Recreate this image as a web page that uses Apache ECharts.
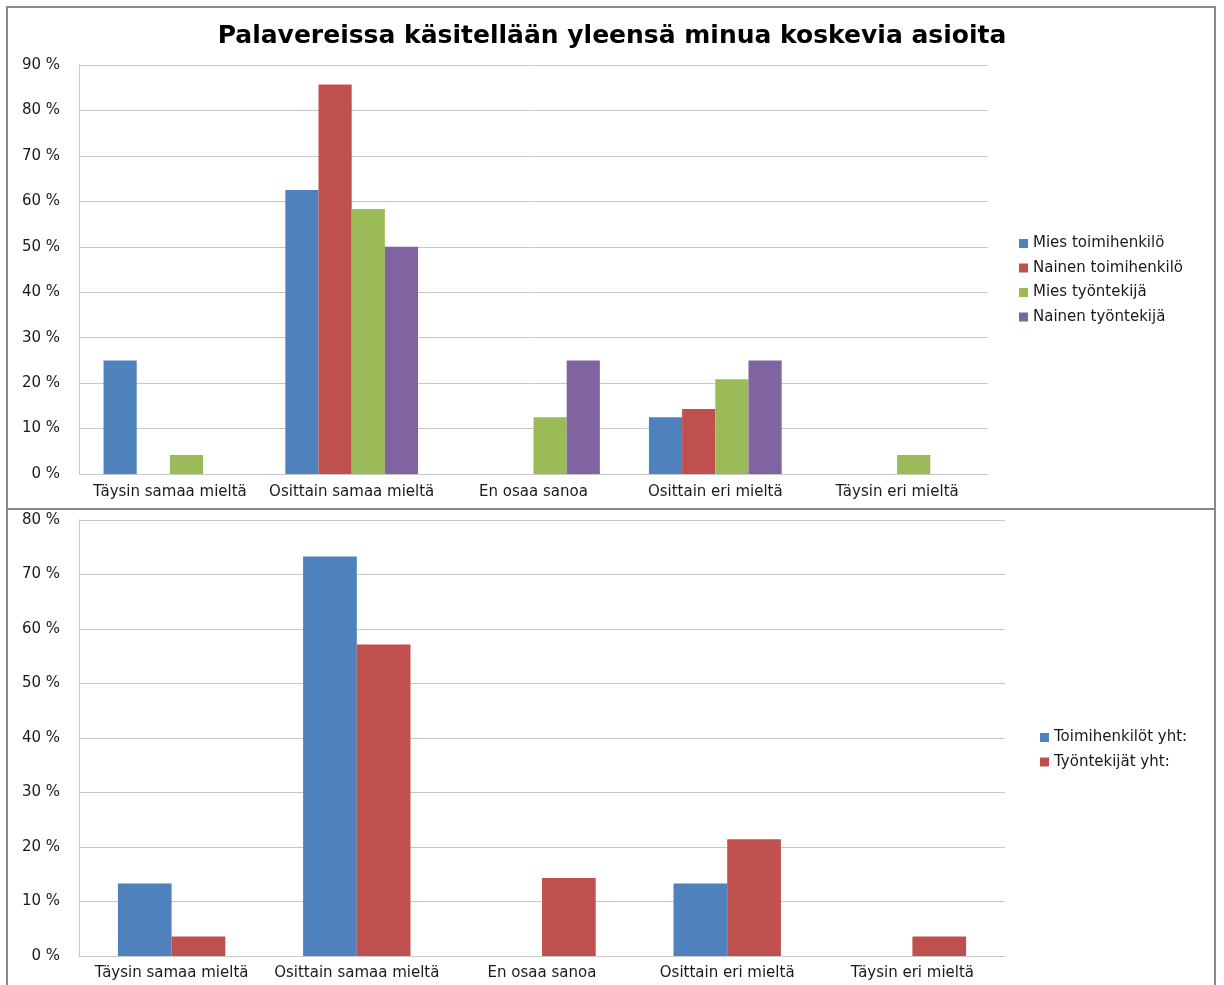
<!DOCTYPE html>
<html>
<head>
<meta charset="utf-8">
<script src="https://cdn.jsdelivr.net/npm/echarts@6/dist/echarts.min.js"></script>
<style>
  html, body { margin: 0; padding: 0; background: #fff; }
  #chart { width: 1224px; height: 985px; }
</style>
</head>
<body>
<div id="chart"></div>
<script>
// Answer categories shared by both charts
const categories = ['Täysin samaa mieltä', 'Osittain samaa mieltä', 'En osaa sanoa', 'Osittain eri mieltä', 'Täysin eri mieltä'];

// Upper chart: by gender and staff group (%)
const miesToimihenkilo   = [25.0, 62.5, 0, 12.5, 0];
const nainenToimihenkilo = [0, 85.7, 0, 14.3, 0];
const miesTyontekija     = [4.17, 58.33, 12.5, 20.83, 4.17];
const nainenTyontekija   = [0, 50.0, 25.0, 25.0, 0];

// Lower chart: totals by staff group (%)
const toimihenkilotYht = [13.3, 73.3, 0, 13.3, 0];
const tyontekijatYht   = [3.57, 57.14, 14.29, 21.43, 3.57];

// Axis tick ranges
const topAxis = { min: 0, max: 90, interval: 10 };
const bottomAxis = { min: 0, max: 80, interval: 10 };

const FONT = '"DejaVu Sans", "Open Sans", sans-serif';
const COLORS = ['#4F81BD', '#C0504D', '#9BBB59', '#8064A2'];

const chart = echarts.init(document.getElementById('chart'));

const labelStyle = { color: '#1a1a1a', fontSize: 15, fontFamily: FONT };
const lineStyle = { color: '#c8c8c8', width: 1 };

function valueAxis(gridIndex, range) {
  return {
    type: 'value', gridIndex, min: range.min, max: range.max, interval: range.interval,
    axisLine: { show: true, lineStyle },
    axisTick: { show: false },
    splitLine: { show: true, lineStyle },
    axisLabel: Object.assign({ formatter: '{value} %', margin: 19 }, labelStyle)
  };
}
function categoryAxis(gridIndex, margin) {
  return {
    type: 'category', gridIndex, data: categories,
    axisLine: { show: true, lineStyle },
    axisTick: { show: false },
    axisLabel: Object.assign({ margin, interval: 0 }, labelStyle)
  };
}
function barSeries(name, data, idx, gridIdx, gap) {
  return {
    name, type: 'bar', data, xAxisIndex: gridIdx, yAxisIndex: gridIdx,
    barGap: '0%', barCategoryGap: gap,
    itemStyle: { color: COLORS[idx] },
    emphasis: { disabled: true }
  };
}

const legendText = { fontSize: 15, lineHeight: 15, color: '#1a1a1a', fontFamily: FONT };

chart.setOption({
  animation: false,
  color: COLORS,
  textStyle: { fontFamily: FONT },
  title: {
    text: 'Palavereissa käsitellään yleensä minua koskevia asioita',
    left: 'center', top: 19,
    textStyle: { fontSize: 25, fontWeight: 'bold', color: '#000', fontFamily: FONT }
  },
  graphic: [
    { type: 'rect', shape: { x: 7, y: 7, width: 1208, height: 990 },
      style: { fill: 'none', stroke: '#8a8a8a', lineWidth: 2 }, silent: true },
    { type: 'line', shape: { x1: 7, y1: 509, x2: 1215, y2: 509 },
      style: { stroke: '#8a8a8a', lineWidth: 2 }, silent: true }
  ],
  legend: [
    {
      data: ['Mies toimihenkilö', 'Nainen toimihenkilö', 'Mies työntekijä', 'Nainen työntekijä'],
      orient: 'vertical', left: 1014, top: 231, icon: 'rect',
      itemWidth: 9, itemHeight: 9, itemGap: 9.5,
      textStyle: legendText
    },
    {
      data: ['Toimihenkilöt yht:', 'Työntekijät yht:'],
      orient: 'vertical', left: 1035, top: 725, icon: 'rect',
      itemWidth: 9, itemHeight: 9, itemGap: 9.5,
      textStyle: legendText
    }
  ],
  grid: [
    { left: 79, right: 236, top: 65, bottom: 511 },
    { left: 79, right: 219, top: 520, bottom: 29 }
  ],
  xAxis: [categoryAxis(0, 11), categoryAxis(1, 10)],
  yAxis: [valueAxis(0, topAxis), valueAxis(1, bottomAxis)],
  series: [
    barSeries('Mies toimihenkilö', miesToimihenkilo, 0, 0, '27%'),
    barSeries('Nainen toimihenkilö', nainenToimihenkilo, 1, 0, '27%'),
    barSeries('Mies työntekijä', miesTyontekija, 2, 0, '27%'),
    barSeries('Nainen työntekijä', nainenTyontekija, 3, 0, '27%'),
    barSeries('Toimihenkilöt yht:', toimihenkilotYht, 0, 1, '42%'),
    barSeries('Työntekijät yht:', tyontekijatYht, 1, 1, '42%')
  ]
});
</script>
</body>
</html>
